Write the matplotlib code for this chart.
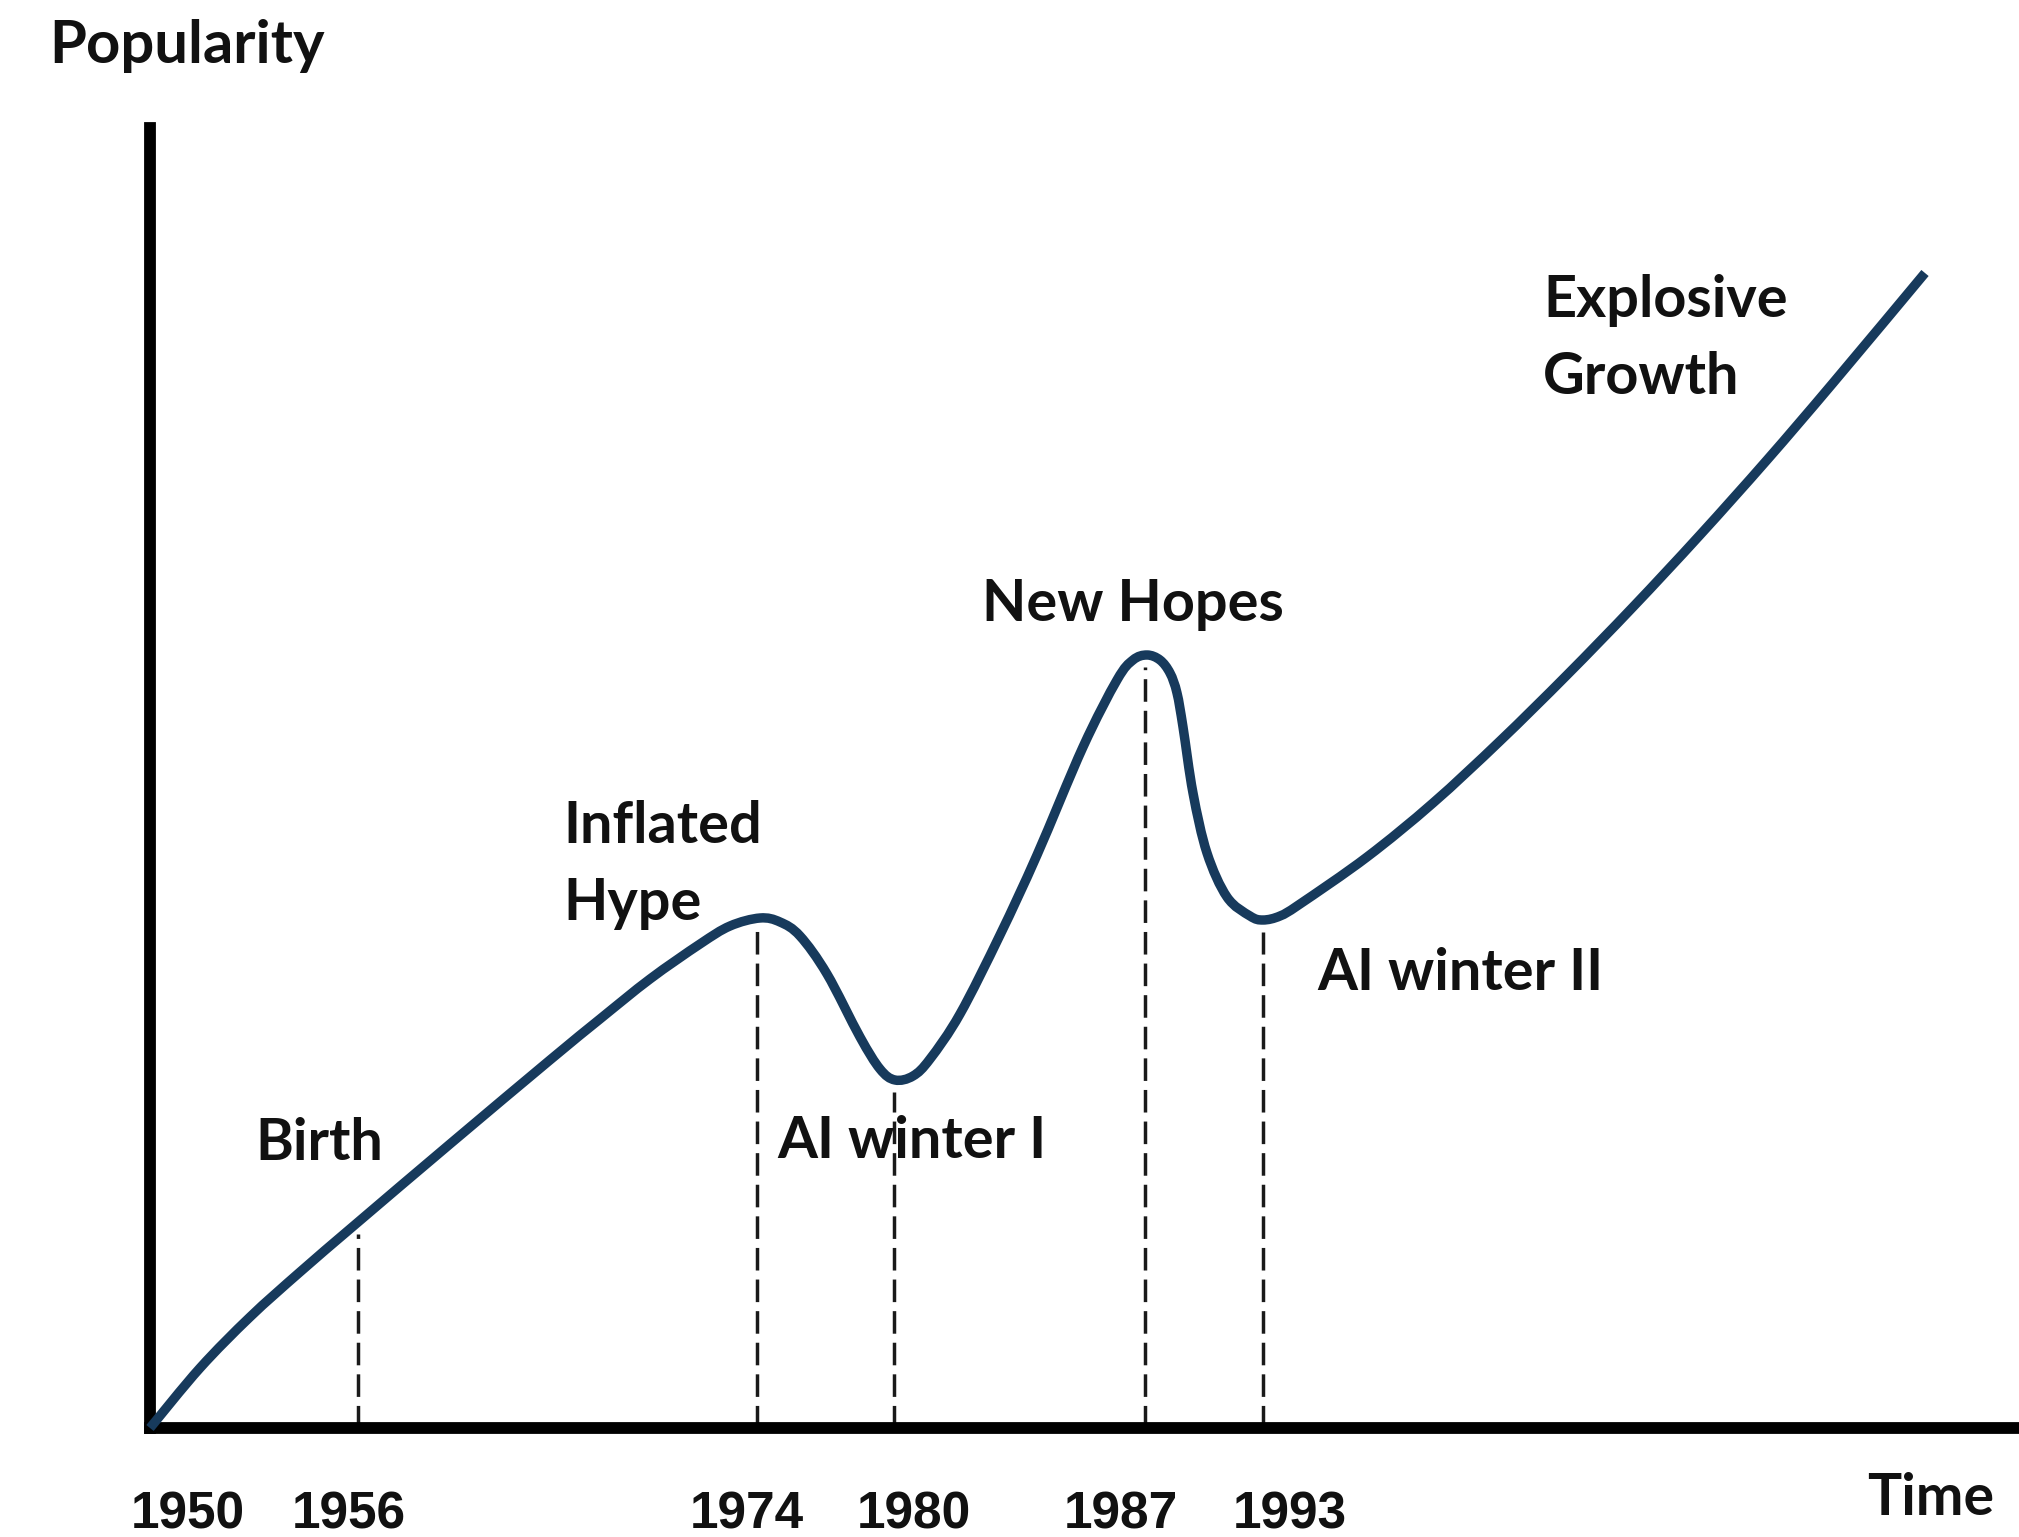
import matplotlib
matplotlib.use("Agg")
import matplotlib.pyplot as plt
from matplotlib.path import Path
from matplotlib.patches import PathPatch
from matplotlib.transforms import ScaledTranslation

# curve (x = time position, y = popularity, arbitrary units)
curve_x = [0.0, 5.0, 10.0, 15.0, 20.7, 30.0, 40.0, 45.0, 50.0, 55.0, 58.0, 61.0,
           63.0, 65.0, 67.7, 71.0, 73.0, 74.5, 76.3, 78.0, 81.0, 85.0, 88.7, 93.3,
           96.7, 98.3, 99.7, 101.0, 102.0, 102.7, 103.3, 104.3, 105.7, 107.7, 110.0, 111.3,
           113.0, 115.0, 121.7, 128.3, 135.0, 141.7, 148.3, 155.0, 161.7, 168.3, 177.5]
curve_y = [0.0, 6.0, 11.1, 15.6, 20.5, 28.4, 36.8, 40.9, 44.9, 48.4, 50.2, 51.0,
           50.6, 49.2, 45.4, 39.1, 35.9, 34.8, 35.2, 36.9, 41.4, 49.3, 57.3, 68.1,
           74.8, 76.8, 77.3, 76.8, 75.5, 73.5, 70.1, 63.5, 57.5, 53.1, 51.2, 50.8,
           51.2, 52.4, 57.1, 62.5, 68.7, 75.3, 82.1, 89.3, 96.8, 104.5, 115.5]

years = ['1950', '1956', '1974', '1980', '1987', '1993']
event_x = [0.0, 20.8, 60.7, 74.4, 99.5, 111.3]
event_y = [0.0, 20.6, 51.0, 34.8, 77.3, 50.8]

stages = ['Birth', 'Inflated\nHype', 'AI winter I', 'New Hopes', 'AI winter II', 'Explosive\nGrowth']

# layout (label anchors: left edge / first baseline, in data units)
stage_pos = [(10.5, 26.8), (41.3, 58.5), (62.7, 27.0), (83.2, 80.7), (116.7, 43.8), (139.3, 111.1)]
line_gap = 7.7
tick_nudge_px = [38, -9, -10, 20, -24, 27]

curve_color = '#173a5c'
label_font = ['Lato', 'DejaVu Sans']


def smooth_path(xs, ys):
    # bezier segments through the read points (catmull-rom tangents), drawn by matplotlib
    pts = list(zip(xs, ys))
    verts = [pts[0]]
    codes = [Path.MOVETO]
    n = len(pts)
    for i in range(n - 1):
        p0 = pts[max(i - 1, 0)]
        p1 = pts[i]
        p2 = pts[i + 1]
        p3 = pts[min(i + 2, n - 1)]
        c1 = (p1[0] + (p2[0] - p0[0]) / 6, p1[1] + (p2[1] - p0[1]) / 6)
        c2 = (p2[0] - (p3[0] - p1[0]) / 6, p2[1] - (p3[1] - p1[1]) / 6)
        verts += [c1, c2, p2]
        codes += [Path.CURVE4] * 3
    return Path(verts, codes)


fig = plt.figure(figsize=(20.19, 15.37), dpi=100)
ax = fig.add_axes([150 / 2019, 109 / 1537, 1869 / 2019, 1300 / 1537])

ax.add_patch(PathPatch(smooth_path(curve_x, curve_y), facecolor='none', edgecolor=curve_color,
                       lw=6.8, capstyle='butt', joinstyle='round', clip_on=False, zorder=3))

for x, y in zip(event_x[1:], event_y[1:]):
    ln, = ax.plot([x, x], [0, y - 1.2], color='#1a1a1a', lw=2.5, zorder=2)
    ln.set_dashes((6.5, 2.6))

for text, (x, y) in zip(stages, stage_pos):
    for i, part in enumerate(text.split('\n')):
        ax.text(x, y - i * line_gap, part, family=label_font, fontweight='bold',
                fontsize=41.5, color='#111111', ha='left', va='baseline', zorder=4)

ax.set_xlim(0, 186.9)
ax.set_ylim(0, 130.0)

for side in ['top', 'right']:
    ax.spines[side].set_visible(False)
for side in ['left', 'bottom']:
    ax.spines[side].set_linewidth(8.5)
    ax.spines[side].set_color('black')
    ax.spines[side].set_capstyle('projecting')

ax.set_yticks([])
ax.set_xticks(event_x, years)
ax.tick_params(axis='x', length=0, pad=45)
for lab, dx in zip(ax.get_xticklabels(), tick_nudge_px):
    lab.set_fontfamily(['Liberation Sans', 'DejaVu Sans'])
    lab.set_fontweight('bold')
    lab.set_fontsize(37)
    lab.set_color('#111111')
    lab.set_transform(lab.get_transform() + ScaledTranslation(dx / 100, 0, fig.dpi_scale_trans))

fig.text(49 / 2019, 1 - 63 / 1537, 'Popularity', family=label_font, fontweight='bold',
         fontsize=43, color='#111111', ha='left', va='baseline')
fig.text(1867 / 2019, 1 - 1515 / 1537, 'Time', family=label_font, fontweight='bold',
         fontsize=41, color='#111111', ha='left', va='baseline')

fig.savefig('out.png', dpi=100, facecolor='white')
